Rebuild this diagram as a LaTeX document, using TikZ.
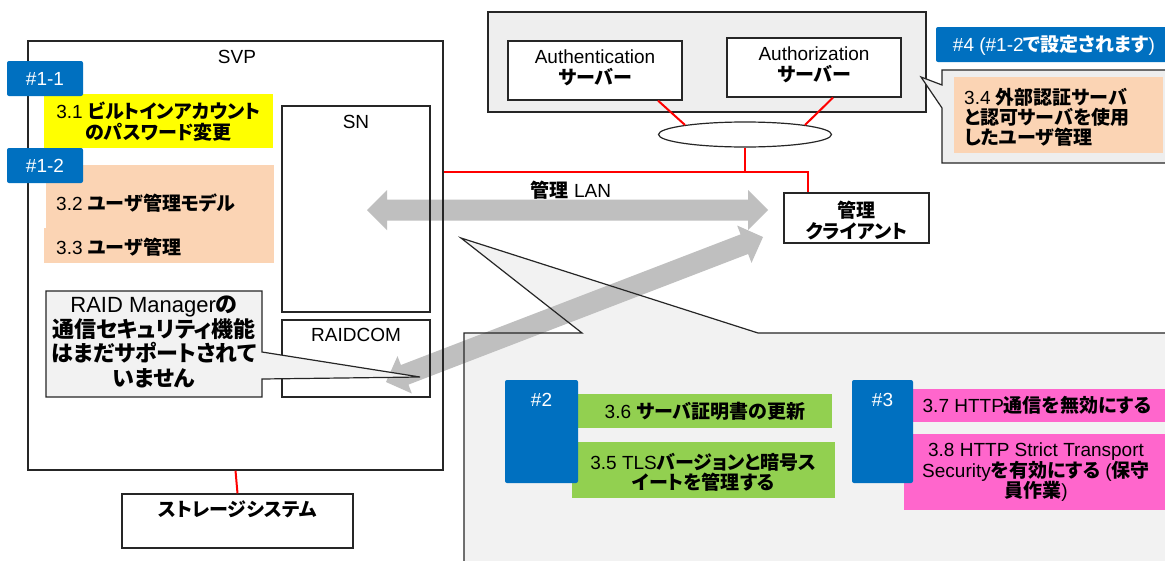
\documentclass[tikz,border=0pt]{standalone}
\usepackage{fontspec}
\setmainfont{Liberation Sans}
\newfontfamily\jpf{Noto Sans CJK JP}[RawFeature=+palt]
\usetikzlibrary{calc,shapes.geometric}
\newcommand\J[1]{{\jpf\bfseries #1}}
\definecolor{tagblue}{HTML}{0070C0}
\definecolor{yel}{HTML}{FFFF00}
\definecolor{peach}{HTML}{FBD4B4}
\definecolor{grn}{HTML}{92D050}
\definecolor{pnk}{HTML}{FF66CC}
\definecolor{callgray}{HTML}{F2F2F2}
\definecolor{panelgray}{HTML}{EEEEEE}
\definecolor{arrowgray}{HTML}{BFBFBF}
\definecolor{edge}{HTML}{262626}
\newcommand\dblarrow[3]{%
  \coordinate (#3a) at ($(#1)!20pt!(#2)$);
  \coordinate (#3b) at ($(#2)!20pt!(#1)$);
  \fill[arrowgray] (#1) -- ($(#3a)!20pt!90:(#2)$) -- ($(#3a)!10.5pt!90:(#2)$)
    -- ($(#3b)!10.5pt!-90:(#1)$) -- ($(#3b)!20pt!-90:(#1)$) -- (#2)
    -- ($(#3b)!20pt!90:(#1)$) -- ($(#3b)!10.5pt!90:(#1)$)
    -- ($(#3a)!10.5pt!-90:(#2)$) -- ($(#3a)!20pt!-90:(#2)$) -- cycle;}
\begin{document}
\begin{tikzpicture}[x=1pt,y=-1pt,
  box/.style={draw=edge, line width=1.2pt, inner sep=0pt},
  area/.style={draw=none, inner sep=0pt},
  tagbox/.style={fill=tagblue, rounded corners=2pt, inner sep=0pt},
  txt/.style={inner sep=0pt, align=center, font=\fontsize{19}{21}\selectfont},
  wtxt/.style={txt, text=white},
  redline/.style={draw=red, line width=2pt},
  outline/.style={draw=edge, line width=1.2pt}]
\fill[white] (0,0) rectangle (1165,560);
\useasboundingbox (0,0) rectangle (1165,560);

% authentication panel
\node[box, fill=panelgray, minimum width=438, minimum height=100] (authbg) at (707,62) {};
\node[box, fill=white, minimum width=174, minimum height=59] (authn) at (595,70.5) {};
\node[txt] (authnt) at (595,68) {Authentication\\\J{サーバー}};
\node[box, fill=white, minimum width=174, minimum height=59] (authz) at (814,67.5) {};
\node[txt] (authzt) at (814,65) {Authorization\\\J{サーバー}};
\node[ellipse, draw=edge, line width=1.2pt, fill=white, minimum width=173, minimum height=25, inner sep=0pt] (net) at (745,134.5) {};
\draw[redline] ([xshift=63pt]authn.south) -- (net.171);
\draw[redline] ([xshift=19pt]authz.south) -- (net.9);

% big callout (fill)
\coordinate (bc1) at (464,333);
\coordinate (bc2) at (582,333);
\coordinate (bc3) at (461,238);
\coordinate (bc4) at (758,333);
\coordinate (bc5) at (1172,333);
\coordinate (bc6) at (1172,565);
\coordinate (bc7) at (464,565);
\fill[callgray] (bc1) -- (bc2) -- (bc3) -- (bc4) -- (bc5) -- (bc6) -- (bc7) -- cycle;

% gray arrows
\coordinate (h1) at (367,210);
\coordinate (h2) at (768,210);
\coordinate (d1) at (386,382);
\coordinate (d2) at (763,237);
\dblarrow{h1}{h2}{h}
\dblarrow{d1}{d2}{d}

\draw[outline] (bc1) -- (bc2) -- (bc3) -- (bc4) -- (bc5) -- (bc6) -- (bc7) -- cycle;

% SVP
\node[box, minimum width=415, minimum height=429] (svp) at (235.5,255.5) {};
\node[txt] (svpt) at (237,57) {SVP};
\node[box, minimum width=148, minimum height=206] (sn) at (356,209) {};
\node[txt] (snt) at (356,122) {SN};
\node[box, minimum width=148, minimum height=77] (raidcom) at (356,358.5) {};
\node[txt] (raidcomt) at (356,335) {RAIDCOM};
\node[box, fill=white, minimum width=231, minimum height=54] (storage) at (237.5,521) {};
\node[txt] (storaget) at (237.5,509) {\J{ストレージシステム}};
\draw[redline] (svp.south) -- (storage.north);

% client and LAN
\node[box, fill=white, minimum width=145, minimum height=50] (client) at (856.5,218) {};
\node[txt] (clientt) at (856.5,221) {\J{管理}\\\J{クライアント}};
\node[txt] (lant) at (571,190) {\J{管理} LAN};
\coordinate (lanrow) at (0,172);
\coordinate (cl) at ([xshift=-48.5pt]client.north);
\draw[redline] (net.south) -- (net.south |- lanrow);
\draw[redline] (svp.east |- lanrow) -- (cl |- lanrow) -- (cl);

% #1 items
\node[area, fill=yel, minimum width=229, minimum height=54] (y31) at (158.5,121) {};
\node[txt] (y31t) at (158.5,122) {3.1 \J{ビルトインアカウント}\\\J{のパスワード変更}};
\node[area, fill=peach, minimum width=228, minimum height=63] (p32) at (160,196.5) {};
\node[area, fill=peach, minimum width=230, minimum height=35] (p33) at (159,245.5) {};
\node[txt, anchor=west] (p32t) at (56,203) {3.2 \J{ユーザ管理モデル}};
\node[txt, anchor=west] (p33t) at (56,247) {3.3 \J{ユーザ管理}};
\node[tagbox, minimum width=76, minimum height=35] (tag11) at (45,78.5) {};
\node[wtxt] (tag11t) at (45,78.5) {\#1-1};
\node[tagbox, minimum width=76, minimum height=35] (tag12) at (45,165.5) {};
\node[wtxt] (tag12t) at (45,165.5) {\#1-2};

% RAID Manager callout
\filldraw[fill=callgray, draw=edge, line width=1.2pt] (46,291) -- (262,291) -- (262,352) -- (420,377) -- (262,379) -- (262,397) -- (46,397) -- cycle;
\node[txt, font=\fontsize{22}{24.5}\selectfont] (raidt) at (154,342) {RAID Manager\J{の}\\\J{通信セキュリティ機能}\\\J{はまだサポートされて}\\\J{いません}};

% #2 items
\node[area, fill=grn, minimum width=254, minimum height=34] (g36) at (705,411) {};
\node[txt] (g36t) at (705,411) {3.6 \J{サーバ証明書の更新}};
\node[area, fill=grn, minimum width=263, minimum height=56] (g35) at (703.5,470) {};
\node[txt, font=\fontsize{19}{20}\selectfont] (g35t) at (703.5,472) {3.5 TLS\J{バージョンと暗号ス}\\\J{イートを管理する}};
\node[tagbox, minimum width=73, minimum height=103] (tag2) at (541.5,431.5) {};
\node[wtxt] (tag2t) at (541.5,400) {\#2};

% #3 items
\node[area, fill=pnk, minimum width=254, minimum height=33] (p37) at (1040,405.5) {};
\node[txt] (p37t) at (1037,405.5) {3.7 HTTP\J{通信を無効にする}};
\node[area, fill=pnk, minimum width=263, minimum height=76] (p38) at (1035.5,472) {};
\node[txt, font=\fontsize{19}{20.5}\selectfont] (p38t) at (1036,472.5) {3.8 HTTP Strict Transport\\Security\J{を有効にする} (\J{保守}\\\J{員作業})};
\node[tagbox, minimum width=61, minimum height=103] (tag3) at (882.5,431.5) {};
\node[wtxt] (tag3t) at (882.5,400) {\#3};

% 3.4 callout and #4 tag
\filldraw[fill=panelgray, draw=edge, line width=1.2pt] (942,70) -- (1172,70) -- (1172,163) -- (942,163) -- (942,108) -- (921,77) -- (942,85) -- cycle;
\node[area, fill=peach, minimum width=209, minimum height=76] (c34) at (1058.5,115) {};
\node[txt, align=left, anchor=west, font=\fontsize{19}{20}\selectfont] (c34t) at (964,117) {3.4 \J{外部認証サーバ}\\\J{と認可サーバを使用}\\\J{したユーザ管理}};
\node[tagbox, minimum width=231, minimum height=35] (tag4) at (1051.5,44.5) {};
\node[wtxt] (tag4t) at (1054,45) {\#4 (\#1-2\J{で設定されます})};
\end{tikzpicture}
\end{document}
